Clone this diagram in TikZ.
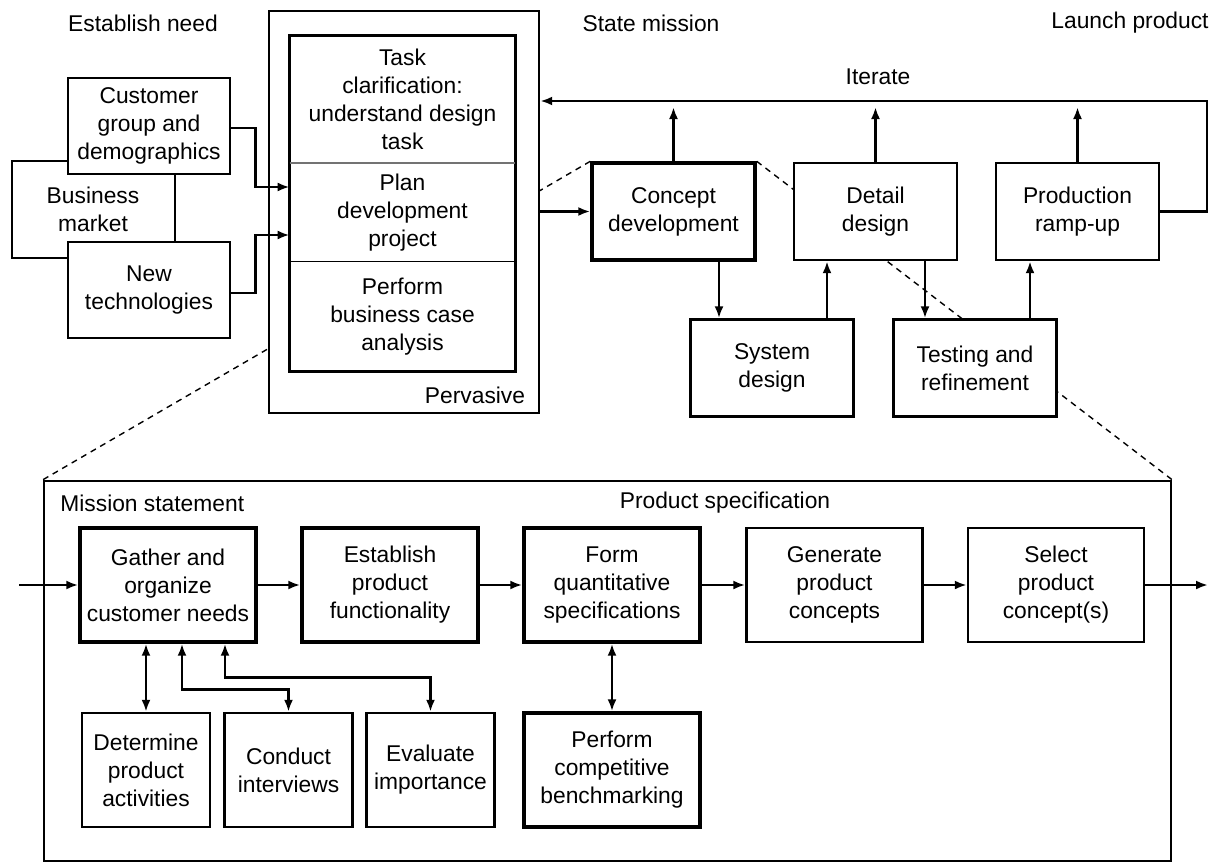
\documentclass[tikz,border=0pt]{standalone}
\usepackage{fontspec}
\setmainfont{Liberation Sans}
\usetikzlibrary{arrows.meta,backgrounds}

\begin{document}
\begin{tikzpicture}[x=0.5pt, y=-0.5pt,
    >={Latex[length=6pt,width=4.5pt]},
    every node/.style={font=\fontsize{11.4}{14}\selectfont},
    box/.style={draw, fill=white, line width=1.2pt, inner sep=0pt, align=center},
    thickbox/.style={box, line width=1.5pt},
    stage/.style={box, minimum width=81.5pt, minimum height=48.5pt},
    task/.style={box, minimum width=88pt, minimum height=57pt},
    sub/.style={box, minimum width=64pt, minimum height=57pt},
    part/.style={inner sep=0pt, align=center, minimum width=112.5pt},
    lbl/.style={inner sep=0pt, align=center},
    flow/.style={->, line width=1.4pt},
    both/.style={<->, line width=1.4pt},
  ]
  \useasboundingbox (0,0) rectangle (1218,862);

  % headings
  \node[lbl] (need)   at (143,23)  {Establish need};
  \node[lbl] (state)  at (651,23)  {State mission};
  \node[lbl] (launch) at (1130,23) {Launch product};
  \node[lbl] (iter)   at (878,77)  {Iterate};

  % pervasive block
  \node[box, minimum width=135pt, minimum height=201pt] (outer) at (404,212) {};
  \node[lbl] (perv) at (475,395) {Pervasive};
  \node[part, minimum height=63.5pt] (task) at (402.5,99.5) {Task\\clarification:\\understand design\\task};
  \node[part, minimum height=49.5pt] (plan) at (402.5,212.5) {Plan\\development\\project};
  \node[part, minimum height=54.5pt] (perf) at (402.5,316.5) {Perform\\business case\\analysis};
  \draw[line width=1.6pt] (task.north west) rectangle (perf.south east);
  \draw[line width=0.9pt, black!55] (plan.north west) -- (plan.north east);
  \draw[line width=0.6pt] (perf.north west) -- (perf.north east);

  % inputs
  \node[box, minimum width=81pt, minimum height=48pt] (cust) at (149,126) {Customer\\group and\\demographics};
  \node[box, minimum width=81pt, minimum height=48pt] (newtech) at (149,290) {New\\technologies};
  \node[lbl] (market) at (93,209.5) {Business\\market};
  \draw[line width=1.2pt] ([yshift=-17.5pt]cust.west) -- ++(-27.5pt,0) |- ([yshift=16pt]newtech.west);
  \draw[line width=1.2pt] ([xshift=13pt]cust.south) -- ([xshift=13pt]newtech.north);
  \draw[flow] ([yshift=-1pt]cust.east) -- ++(12pt,0) |- ([yshift=12.75pt]plan.west);
  \draw[flow] ([yshift=-1.5pt]newtech.east) -- ++(12pt,0) |- ([yshift=-11.25pt]plan.west);

  % development stages
  \node[stage, line width=1.7pt] (concept) at (673.5,211.5) {Concept\\development};
  \node[stage] (detail) at (875.5,211.5) {Detail\\design};
  \node[stage] (prod)   at (1077.5,211.5) {Production\\ramp-up};
  \node[stage] (sys)    at (772,368) {System\\design};
  \node[stage] (test)   at (975,368) {Testing and\\refinement};

  \draw[flow] (outer.east |- concept.west) -- (concept.west);
  \draw[flow] ([xshift=-26.5pt]sys.north |- concept.south) -- ([xshift=-26.5pt]sys.north);
  \draw[flow] ([xshift=27.5pt]sys.north) -- ([xshift=27.5pt]sys.north |- detail.south);
  \draw[flow] ([xshift=-25pt]test.north |- detail.south) -- ([xshift=-25pt]test.north);
  \draw[flow] ([xshift=27.5pt]test.north) -- ([xshift=27.5pt]test.north |- prod.south);

  % iterate loop
  \coordinate (itr) at (1207,101);
  \coordinate (itip) at (0,107);
  \draw[flow] (prod.east) -| (itr) -- (itr -| outer.east);
  \draw[flow] (concept.north) -- (concept.north |- itip);
  \draw[flow] (detail.north) -- (detail.north |- itip);
  \draw[flow] (prod.north) -- (prod.north |- itip);

  % concept development detail
  \node[box, minimum width=563.5pt, minimum height=190pt] (spec) at (607.5,671) {};
  \node[lbl, anchor=west] (mission) at (60,503) {Mission statement};
  \node[lbl] (pspec) at (725,503) {Product specification};

  \node[task, line width=1.7pt] (gather) at (168,585) {Gather and\\organize\\customer needs};
  \node[task, line width=1.7pt] (estab)  at (390,585) {Establish\\product\\functionality};
  \node[task, line width=1.7pt] (form)   at (612,585) {Form\\quantitative\\specifications};
  \node[task] (gen) at (834.5,585) {Generate\\product\\concepts};
  \node[task] (sel) at (1056,585) {Select\\product\\concept(s)};

  \node[sub] (det)  at (146,770)   {Determine\\product\\activities};
  \node[sub] (cond) at (288.5,770) {Conduct\\interviews};
  \node[sub] (eval) at (430.5,770) {Evaluate\\importance};
  \node[task, line width=1.7pt] (bench) at (612,770) {Perform\\competitive\\benchmarking};

  \coordinate (in) at (19,585);
  \coordinate (out) at (1208,585);
  \draw[flow] (in) -- (gather.west);
  \draw[flow] (gather) -- (estab);
  \draw[flow] (estab) -- (form);
  \draw[flow] (form) -- (gen);
  \draw[flow] (gen) -- (sel);
  \draw[flow] (sel.east) -- (out);

  \draw[both] (gather.south -| det.north) -- (det.north);
  \draw[both] ([xshift=7pt]gather.south) -- ++(0,-23pt) -| (cond.north);
  \draw[both] ([xshift=28.5pt]gather.south) -- ++(0,-17pt) -| (eval.north);
  \draw[both] (form.south) -- (bench.north);

  % zoom lines
  \begin{scope}[on background layer]
    \draw[line width=0.7pt, dash pattern=on 3pt off 2.5pt] (concept.north west) -- (spec.north west);
    \draw[line width=0.7pt, dash pattern=on 3pt off 2.5pt] (concept.north east) -- (spec.north east);
  \end{scope}
\end{tikzpicture}
\end{document}
